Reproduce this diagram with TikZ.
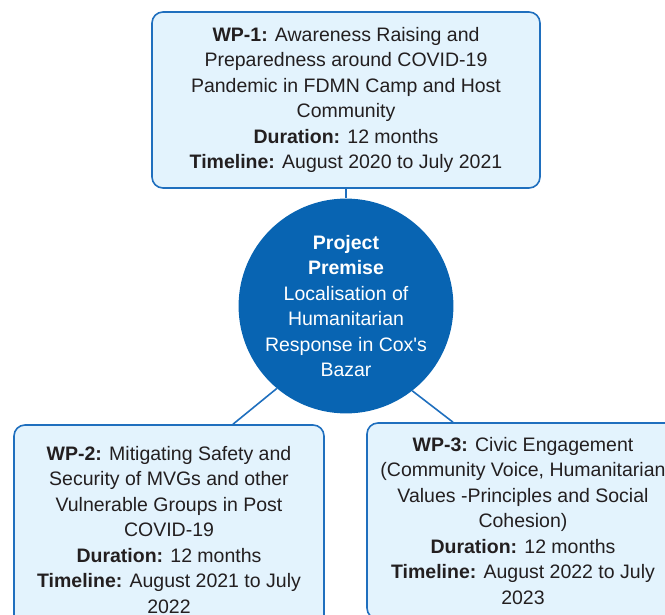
\documentclass[tikz,border=0pt]{standalone}
\usepackage{fontspec}
\setmainfont{Liberation Sans}
\usetikzlibrary{positioning}
\definecolor{wpblue}{RGB}{31,111,190}
\definecolor{coreblue}{RGB}{8,100,178}
\definecolor{wpfill}{RGB}{227,243,253}
\definecolor{wptext}{RGB}{35,31,32}

\begin{document}
\begin{tikzpicture}[x=1pt,y=-1pt]
        % Setup the styles for the boxes and the centre
        \tikzset{wp style/.style={draw=wpblue,
                                  line width=1.6pt,
                                  fill=wpfill,
                                  rounded corners=11pt,
                                  align=center,
                                  text=wptext,
                                  inner sep=0pt,
                                  font=\fontsize{19.5}{25.5}\selectfont},
                 core style/.style={circle,
                                    fill=coreblue,
                                    minimum size=202pt,
                                    inner sep=0pt,
                                    align=center,
                                    text=white,
                                    font=\fontsize{19.5}{25.5}\selectfont},
                 link/.style={draw=wpblue, line width=1.6pt}}

        \clip (0,0) rectangle (665,615);

        % Draw the work packages and the premise
        \node[wp style, minimum width=388pt, minimum height=176pt] at (346,100) (wp1)
            {\textbf{WP-1:} Awareness Raising and\\
             Preparedness around COVID-19\\
             Pandemic in FDMN Camp and Host\\
             Community\\
             \textbf{Duration:} 12 months\\
             \textbf{Timeline:} August 2020 to July 2021};
        \node[core style] at (346,306) (core)
            {\textbf{Project}\\
             \textbf{Premise}\\
             Localisation of\\
             Humanitarian\\
             Response in Cox\textquotesingle s\\
             Bazar};
        \node[wp style, minimum width=310pt, minimum height=210pt] at (169,530) (wp2)
            {\textbf{WP-2:} Mitigating Safety and\\
             Security of MVGs and other\\
             Vulnerable Groups in Post\\
             COVID-19\\
             \textbf{Duration:} 12 months\\
             \textbf{Timeline:} August 2021 to July\\
             2022};
        \node[wp style, minimum width=312pt, minimum height=196pt] at (523,521) (wp3)
            {\textbf{WP-3:} Civic Engagement\\
             (Community Voice, Humanitarian\\
             Values -Principles and Social\\
             Cohesion)\\
             \textbf{Duration:} 12 months\\
             \textbf{Timeline:} August 2022 to July\\
             2023};

        % Connect the premise with the boxes
        \coordinate (wp2 in) at ([xshift=64pt]wp2.north);
        \coordinate (wp3 in) at ([xshift=-70pt]wp3.north);
        \draw[link] (wp1.south) -- (core.north);
        \draw[link] (core.230) -- (wp2 in);
        \draw[link] (core.308) -- (wp3 in);
\end{tikzpicture}
\end{document}
